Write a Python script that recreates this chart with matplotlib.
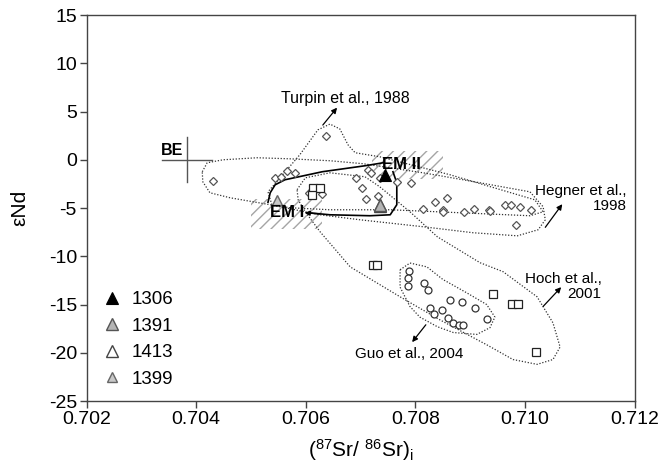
import matplotlib
matplotlib.use("Agg")
import matplotlib.pyplot as plt
from matplotlib.patches import Rectangle
from matplotlib.ticker import FormatStrFormatter

plt.rcParams["font.family"] = ["Liberation Sans", "DejaVu Sans"]
plt.rcParams["mathtext.fontset"] = "custom"
plt.rcParams["mathtext.rm"] = "Liberation Sans"
plt.rcParams["mathtext.it"] = "Liberation Sans:italic"
plt.rcParams["hatch.linewidth"] = 1.0
plt.rcParams["axes.unicode_minus"] = False

# === Data ===
# literature diamonds (Turpin 1988 / Hegner 1998)
dia_sr = [0.70431, 0.70637, 0.70544, 0.70555, 0.70566, 0.70580, 0.70606, 0.70630,
          0.70692, 0.70703, 0.70710, 0.70714, 0.70719, 0.70732, 0.70736, 0.70766,
          0.70792, 0.70814, 0.70836, 0.70851, 0.70851, 0.70858, 0.70888, 0.70906,
          0.70935, 0.70937, 0.70964, 0.70974, 0.70991, 0.71011, 0.70984]
dia_nd = [-2.2, 2.45, -1.85, -1.75, -1.15, -1.4, -3.4, -3.55,
          -1.85, -2.9, -4.05, -1.1, -1.35, -3.75, -1.9, -2.3,
          -2.4, -5.1, -4.35, -5.2, -5.45, -4.0, -5.4, -5.05,
          -5.2, -5.3, -4.65, -4.65, -4.85, -5.25, -6.8]

# Hoch et al. 2001 squares
sq_sr = [0.70614, 0.70625, 0.70612, 0.70722, 0.70730, 0.70942, 0.70977, 0.70988, 0.71020]
sq_nd = [-2.9, -2.9, -3.7, -10.9, -10.9, -13.9, -14.95, -14.95, -19.9]

# Guo et al. 2004 circles
ci_sr = [0.70789, 0.70787, 0.70787, 0.70816, 0.70823, 0.70863, 0.70885, 0.70909,
         0.70827, 0.70834, 0.70849, 0.70860, 0.70869, 0.70880, 0.70887, 0.70931]
ci_nd = [-11.5, -12.2, -13.05, -12.8, -13.45, -14.5, -14.7, -15.35,
         -15.35, -16.0, -15.55, -16.4, -16.9, -17.1, -17.15, -16.45]

# samples (triangles)
samples = ["1306", "1391", "1413", "1399"]
samp_sr = [[0.70745], [0.70735], [0.70735], [0.70547]]
samp_nd = [[-1.55], [-4.7], [-4.75], [-4.15]]

# dotted field outlines (Sr, Nd)
turpin_sr = [0.70538, 0.70531, 0.70553, 0.70589, 0.70622, 0.70644, 0.70662, 0.70677,
             0.70690, 0.70735, 0.70863, 0.71018, 0.71033, 0.71009, 0.70882, 0.70754,
             0.70644, 0.70571]
turpin_nd = [-4.66, -3.32, -1.87, 0.52, 3.1, 3.7, 3.2, 1.55,
             0.73, 0.31, -1.55, -4.15, -5.39, -5.8, -5.49, -5.18,
             -5.18, -4.97]

hegner_sr = [0.70411, 0.70420, 0.70449, 0.70511, 0.70571, 0.70644, 0.70705, 0.70814,
             0.70887, 0.71009, 0.71033, 0.71037, 0.71024, 0.70986, 0.70905, 0.70814,
             0.70699, 0.70626, 0.70535, 0.70462, 0.70425, 0.70412]
hegner_nd = [-1.24, -0.31, 0.0, 0.21, 0.10, -0.10, -0.41, -1.35,
             -2.07, -3.32, -4.87, -6.22, -7.25, -7.88, -7.56, -6.94,
             -6.22, -5.70, -4.66, -3.94, -3.42, -2.28]

hoch_sr = [0.70584, 0.70599, 0.70644, 0.70708, 0.70735, 0.70790, 0.70840, 0.70918,
           0.70960, 0.71022, 0.71051, 0.71064, 0.71051, 0.71022, 0.70978, 0.70931,
           0.70845, 0.70772, 0.70681, 0.70626, 0.70599, 0.70586]
hoch_nd = [-3.1, -1.87, -1.35, -1.76, -2.8, -5.39, -7.98, -10.67,
           -11.6, -14.2, -16.9, -19.4, -20.7, -21.2, -20.7, -19.2,
           -16.6, -14.2, -11.1, -7.46, -5.39, -4.15]

guo_sr = [0.70772, 0.70790, 0.70821, 0.70850, 0.70894, 0.70930, 0.70945, 0.70936,
          0.70912, 0.70869, 0.70840, 0.70808, 0.70790, 0.70772]
guo_nd = [-11.4, -10.7, -11.1, -12.4, -13.8, -15.0, -16.3, -17.4,
          -18.1, -17.9, -17.3, -16.3, -15.2, -13.2]

# mixing curves EM II -> EM I
curve1_sr = [0.70741, 0.70708, 0.70630, 0.70562, 0.70544, 0.70535, 0.70531]
curve1_nd = [-0.31, -0.62, -1.24, -2.07, -2.59, -3.42, -4.4]
curve2_sr = [0.70759, 0.70766, 0.70766, 0.70754, 0.70717, 0.70644, 0.70606]
curve2_nd = [-1.24, -2.38, -4.66, -5.70, -5.80, -5.70, -5.50]

# mantle end-member boxes (x0, y0, width, height)
em2_box = (0.7072, -2.0, 0.0013, 2.9)
em1_box = (0.7050, -7.2, 0.0013, 3.1)
be_sr, be_nd = 0.70383, 0.0

fig = plt.figure(figsize=(6.69, 4.67), dpi=100)
ax = fig.add_axes([0.1295, 0.1413, 0.8191, 0.8265])

dots = dict(color="#333333", lw=0.9, ls=(0, (1, 1.4)), zorder=2)
for xs, ys in [(turpin_sr, turpin_nd), (hegner_sr, hegner_nd),
               (hoch_sr, hoch_nd), (guo_sr, guo_nd)]:
    ax.plot(xs + xs[:1], ys + ys[:1], **dots)

for box in (em2_box, em1_box):
    ax.add_patch(Rectangle(box[:2], box[2], box[3], fill=False, hatch="///",
                           edgecolor="#a5a5a5", lw=0, zorder=1))

# BE crosshair
ax.plot([0.70338, 0.70429], [be_nd, be_nd], color="#555555", lw=1.0)
ax.plot([be_sr, be_sr], [2.4, -2.35], color="#555555", lw=1.0)
ax.text(0.70356, 1.0, "BE", fontsize=11.5, fontweight="bold", ha="center", va="center")

ax.plot(curve1_sr, curve1_nd, color="black", lw=1.2, zorder=4)
ax.plot(curve2_sr, curve2_nd, color="black", lw=1.2, zorder=4)
ax.annotate("", xy=(0.70598, -5.5), xytext=(0.70625, -5.6),
            arrowprops=dict(arrowstyle="-|>", color="black", lw=1.0,
                            mutation_scale=7, shrinkA=0, shrinkB=0), zorder=4)

ax.plot(dia_sr, dia_nd, ls="none", marker="D", ms=4.5, mfc="white",
        mec="#555555", mew=0.9, zorder=5)
ax.plot(sq_sr, sq_nd, ls="none", marker="s", ms=6, mfc="white",
        mec="#222222", mew=0.9, zorder=5)
ax.plot(ci_sr, ci_nd, ls="none", marker="o", ms=5, mfc="white",
        mec="#333333", mew=0.9, zorder=5)

styles = [dict(marker="^", ms=8, mfc="black", mec="black", mew=0.8),
          dict(marker="^", ms=8, mfc="#b4b4b4", mec="#555555", mew=1.0),
          dict(marker="^", ms=8, mfc="white", mec="#444444", mew=1.0),
          dict(marker="^", ms=7, mfc="#c8c8c8", mec="#666666", mew=1.0)]
handles = []
for name, xs, ys, st in zip(samples, samp_sr, samp_nd, styles):
    h, = ax.plot(xs, ys, ls="none", label=name, zorder=6, **st)
    handles.append(h)
# sample 1391 sits on top of 1413
ax.plot(samp_sr[1], samp_nd[1], ls="none", zorder=7, **styles[1])

ax.text(0.70775, -0.5, "EM II", fontsize=12, fontweight="bold",
        ha="center", va="center", zorder=8)
ax.text(0.70565, -5.5, "EM I", fontsize=12, fontweight="bold",
        ha="center", va="center", zorder=8)

arrow = dict(arrowstyle="-|>", color="black", lw=0.9, mutation_scale=8,
             shrinkA=0, shrinkB=0)
ax.annotate("", xy=(0.70657, 5.4), xytext=(0.70631, 3.6), arrowprops=arrow)
ax.annotate("", xy=(0.71068, -4.6), xytext=(0.71037, -7.0), arrowprops=arrow)
ax.annotate("", xy=(0.71066, -13.2), xytext=(0.71033, -15.2), arrowprops=arrow)
ax.annotate("", xy=(0.70794, -18.9), xytext=(0.70819, -17.1), arrowprops=arrow)

ax.text(0.70673, 6.3, "Turpin et al., 1988", fontsize=11.5, ha="center", va="center")
ax.text(0.71186, -4.0, "Hegner et al.,\n1998", fontsize=11, ha="right",
        va="center", multialignment="right", linespacing=1.1)
ax.text(0.7114, -13.1, "Hoch et al.,\n2001", fontsize=11, ha="right",
        va="center", multialignment="right", linespacing=1.1)
ax.text(0.70788, -20.1, "Guo et al., 2004", fontsize=11, ha="center", va="center")

ax.set_xlim(0.702, 0.712)
ax.set_ylim(-25, 15)
ax.set_xticks([0.702, 0.704, 0.706, 0.708, 0.710, 0.712])
ax.set_yticks(range(-25, 16, 5))
ax.xaxis.set_major_formatter(FormatStrFormatter("%.3f"))
ax.tick_params(direction="out", length=5, width=1, color="#444444",
               labelsize=14, pad=2)
for sp in ax.spines.values():
    sp.set_color("#444444")
    sp.set_linewidth(1.0)

ax.set_xlabel(r"($^{87}$Sr/ $^{86}$Sr)$_{\mathrm{i}}$", fontsize=15, labelpad=7)
ax.set_ylabel("εNd", fontsize=15, labelpad=14)

ax.legend(handles=handles, loc="upper left", bbox_to_anchor=(0.03, 0.285),
          frameon=False, numpoints=1, handlelength=1.0, handletextpad=0.5,
          labelspacing=0.5, borderpad=0, borderaxespad=0, fontsize=13.5)

fig.savefig("out.png", dpi=100)
